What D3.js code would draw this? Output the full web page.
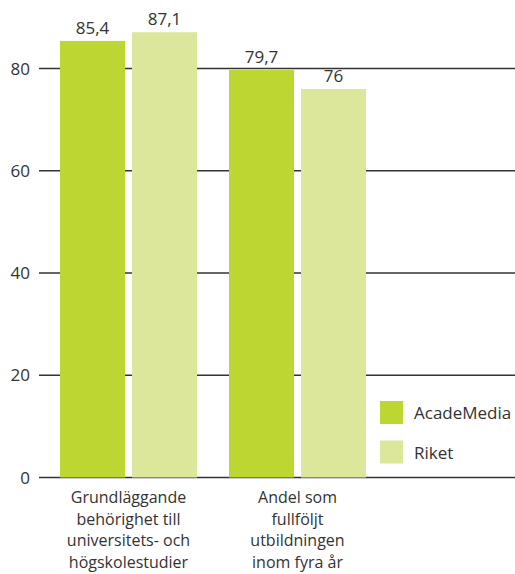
<!DOCTYPE html>
<html>
<head>
<meta charset="utf-8">
<script src="https://cdn.jsdelivr.net/npm/d3@7"></script>
<style>
  body { margin: 0; background: #fff; }
  text { font-family: "Open Sans", sans-serif; fill: #333; }
</style>
</head>
<body>
<div id="chart-area"></div>
<script>
const categories = [
    ['Grundläggande', 'behörighet till', 'universitets- och', 'högskolestudier'],
    ['Andel som', 'fullföljt', 'utbildningen', 'inom fyra år']
];
const seriesNames = ['AcadeMedia', 'Riket'];
const academedia = [85.4, 79.7];
const riket = [87.1, 76];
const yTicks = [0, 20, 40, 60, 80];

const colors = { AcadeMedia: '#bdd631', Riket: '#dce79c' };

window.addEventListener('DOMContentLoaded', () => {
    const width = 515;
    const height = 574;

    const data = categories.map((c, i) => ({
        key: i,
        lines: c,
        values: [
            { name: 'AcadeMedia', value: academedia[i] },
            { name: 'Riket', value: riket[i] }
        ]
    }));

    const svg = d3.select('#chart-area')
        .append('svg')
        .attr('width', width)
        .attr('height', height);

    const y = d3.scaleLinear()
        .domain([0, 80])
        .range([477.5, 68.5]);

    const x0 = d3.scaleBand()
        .domain(data.map(d => d.key))
        .range([44, 382])
        .paddingInner(32 / 169)
        .paddingOuter(16 / 169);

    const x1 = d3.scaleBand()
        .domain(seriesNames)
        .range([0, x0.bandwidth()])
        .paddingInner(7 / 72);

    // gridlines
    svg.append('g')
        .selectAll('line')
        .data(yTicks)
        .join('line')
        .attr('x1', 39)
        .attr('x2', width)
        .attr('y1', d => y(d))
        .attr('y2', d => y(d))
        .attr('stroke', '#333')
        .attr('stroke-width', 1.3);

    // y labels
    svg.append('g')
        .selectAll('text')
        .data(yTicks)
        .join('text')
        .attr('x', 30)
        .attr('y', d => y(d) + 6)
        .attr('text-anchor', 'end')
        .style('font-size', '17px')
        .text(d => d);

    const groups = svg.append('g')
        .selectAll('g')
        .data(data)
        .join('g')
        .attr('transform', d => `translate(${x0(d.key)},0)`);

    groups.selectAll('rect')
        .data(d => d.values)
        .join('rect')
        .attr('x', d => x1(d.name))
        .attr('width', x1.bandwidth())
        .attr('y', d => y(d.value))
        .attr('height', d => y(0) - y(d.value))
        .attr('fill', d => colors[d.name]);

    groups.selectAll('text.val')
        .data(d => d.values)
        .join('text')
        .attr('class', 'val')
        .attr('x', d => x1(d.name) + x1.bandwidth() / 2)
        .attr('y', d => y(d.value) - 7)
        .attr('text-anchor', 'middle')
        .style('font-size', '17px')
        .text(d => String(d.value).replace('.', ','));

    // category labels
    groups.append('text')
        .attr('text-anchor', 'middle')
        .style('font-size', '16px')
        .selectAll('tspan')
        .data(d => d.lines)
        .join('tspan')
        .attr('x', x0.bandwidth() / 2)
        .attr('y', (d, i) => 503 + i * 21.7)
        .text(d => d);

    // legend
    const legend = svg.append('g')
        .selectAll('g')
        .data(seriesNames)
        .join('g')
        .attr('transform', (d, i) => `translate(380,${401 + i * 39.5})`);

    legend.append('rect')
        .attr('width', 23)
        .attr('height', 23)
        .attr('fill', d => colors[d]);

    legend.append('text')
        .attr('x', 34)
        .attr('y', 18)
        .style('font-size', '17px')
        .text(d => d);
});
</script>
</body>
</html>
